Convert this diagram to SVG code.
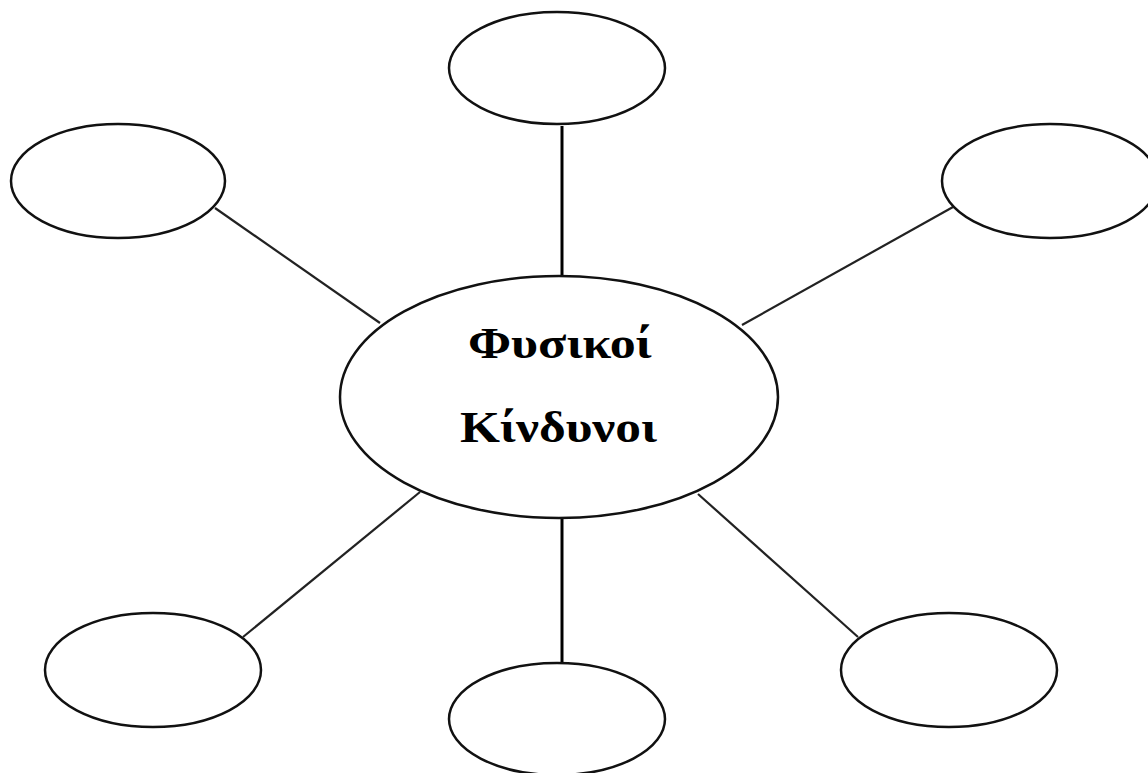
<svg xmlns="http://www.w3.org/2000/svg" width="1148" height="773" viewBox="0 0 1148 773">
<style>
.node{fill:#fff;stroke:#111;stroke-width:2.5}
.edge{stroke:#222;stroke-width:2.2;fill:none}
.v{stroke:#000;stroke-width:3}
.lbl{font-family:"Liberation Serif","DejaVu Serif",serif;font-weight:bold;font-size:44px;fill:#000;text-anchor:middle}
</style>
<rect width="1148" height="773" fill="#fff"/>
<g id="connectors">
<line class="edge v" x1="562" y1="126" x2="562" y2="276"/>
<line class="edge v" x1="562" y1="518" x2="562" y2="663"/>
<line class="edge" x1="215" y1="208" x2="380" y2="323"/>
<line class="edge" x1="953" y1="207" x2="742" y2="325"/>
<line class="edge" x1="243" y1="637" x2="420" y2="492"/>
<line class="edge" x1="858" y1="637" x2="698" y2="494"/>
</g>
<g id="center">
<ellipse class="node" cx="559" cy="397" rx="219" ry="121"/>
<text class="lbl" x="560" y="358" textLength="184" lengthAdjust="spacingAndGlyphs">Φυσικοί</text>
<text class="lbl" x="558.5" y="442" textLength="197" lengthAdjust="spacingAndGlyphs">Κίνδυνοι</text>
</g>
<g id="top"><ellipse class="node" cx="557" cy="68" rx="108" ry="56"/></g>
<g id="top-left"><ellipse class="node" cx="118" cy="181" rx="107" ry="57"/></g>
<g id="top-right"><ellipse class="node" cx="1050" cy="181" rx="108" ry="57"/></g>
<g id="bottom-left"><ellipse class="node" cx="153" cy="670" rx="108" ry="57"/></g>
<g id="bottom-right"><ellipse class="node" cx="949" cy="670" rx="108" ry="57"/></g>
<g id="bottom"><ellipse class="node" cx="557" cy="719" rx="108" ry="56"/></g>
</svg>
